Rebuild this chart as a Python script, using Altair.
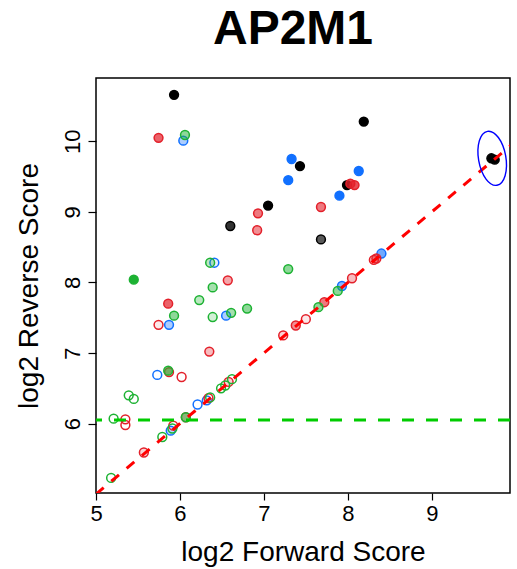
import altair as alt
import pandas as pd

# ---- data ----
fwd_black = [5.93, 8.19, 7.43, 7.05, 7.99, 6.60, 7.68, 9.71, 9.75]
rev_black = [10.66, 10.28, 9.65, 9.09, 9.38, 8.80, 8.61, 9.76, 9.74]
alpha_black = [1, 1, 1, 1, 1, 0.8, 0.65, 1, 1]

fwd_blue = [7.33, 7.29, 8.13, 7.90, 6.04, 6.41, 6.55, 5.87, 5.73, 6.21, 6.32, 5.89, 7.93, 8.40]
rev_blue = [9.75, 9.45, 9.58, 9.23, 10.01, 8.28, 7.53, 7.40, 6.69, 6.27, 6.33, 5.90, 7.95, 8.41]
alpha_blue = [1, 1, 1, 1, 0.35, 0.1, 0.35, 0.35, 0, 0, 0.05, 0.3, 0.5, 0.6]

fwd_red = [5.745, 8.03, 8.08, 7.68, 6.93, 6.92, 6.57, 5.86, 5.745, 6.35, 5.87, 6.02, 5.35,
           5.35, 5.92, 5.57, 6.34, 6.58, 7.23, 7.38, 7.50, 7.72, 8.05, 8.31, 8.34, 6.07]
rev_red = [10.05, 9.40, 9.38, 9.07, 8.98, 8.74, 8.03, 7.70, 7.40, 7.02, 6.73, 6.66, 6.06,
           5.98, 5.97, 5.59, 6.36, 6.59, 7.25, 7.39, 7.48, 7.72, 8.06, 8.32, 8.34, 6.09]
alpha_red = [0.7, 0.8, 0.8, 0.6, 0.6, 0.5, 0.4, 0.7, 0.1, 0.3, 0.4, 0, 0,
             0, 0, 0.2, 0, 0.2, 0.2, 0.5, 0.1, 0.6, 0.3, 0.3, 0.5, 0.3]

fwd_green = [6.06, 5.45, 7.29, 6.36, 6.39, 6.23, 6.80, 5.93, 6.61, 6.39, 5.86, 5.39, 5.45,
             5.21, 6.07, 5.79, 5.18, 6.36, 6.49, 6.54, 6.62, 7.65, 7.88, 5.91]
rev_green = [10.09, 8.04, 8.19, 8.28, 7.93, 7.75, 7.63, 7.53, 7.57, 7.51, 6.75, 6.40, 6.35,
             6.07, 6.09, 5.81, 5.23, 6.37, 6.50, 6.54, 6.63, 7.65, 7.88, 5.93]
alpha_green = [0.5, 1, 0.5, 0.3, 0.4, 0.3, 0.5, 0.5, 0.4, 0.2, 0.6, 0, 0,
               0, 0.5, 0, 0, 0, 0, 0, 0, 0.5, 0.5, 0]

groups = ["black", "blue", "red", "green"]
group_colors = ["#000000", "#1170FF", "#E3202A", "#1DB233"]

cutoff_y = [6.05]
diag_start = [5.0]
diag_end = [10.0]

ellipse_x = [9.72]
ellipse_y = [9.76]

title_text = "AP2M1"
x_title = "log2 Forward Score"
y_title = "log2 Reverse Score"
x_ticks = [5, 6, 7, 8, 9]
y_ticks = [6, 7, 8, 9, 10]
x_domain = [5.0, 9.932]
y_domain = [5.016, 10.898]

# ---- build table ----
rows = []
for g, fx, ry, al in [("black", fwd_black, rev_black, alpha_black),
                      ("blue", fwd_blue, rev_blue, alpha_blue),
                      ("red", fwd_red, rev_red, alpha_red),
                      ("green", fwd_green, rev_green, alpha_green)]:
    for a, b, c in zip(fx, ry, al):
        rows.append({"fwd": a, "rev": b, "grp": g, "alpha": c})
pts = pd.DataFrame(rows)

FONT = "Liberation Sans"

xs = alt.Scale(domain=x_domain, nice=False, zero=False)
ys = alt.Scale(domain=y_domain, nice=False, zero=False)
cscale = alt.Scale(domain=groups, range=group_colors)

x_axis = alt.Axis(values=x_ticks, format="d", title=x_title, grid=False, domain=False,
                  tickColor="black", tickSize=7, tickWidth=1.2, labelFlush=False,
                  labelFontSize=22, labelFont=FONT, labelColor="black", labelPadding=3,
                  titleFontSize=28, titleFont=FONT, titleFontWeight="normal",
                  titleColor="black", titlePadding=14)
y_axis = alt.Axis(values=y_ticks, format="d", title=y_title, grid=False, domain=False,
                  tickColor="black", tickSize=8, tickWidth=1.2, labelFlush=False,
                  labelFontSize=22, labelFont=FONT, labelColor="black",
                  labelAngle=270, labelAlign="center", labelBaseline="alphabetic",
                  labelPadding=9,
                  titleFontSize=28, titleFont=FONT, titleFontWeight="normal",
                  titleColor="black", titlePadding=18)

points = alt.Chart(pts).mark_point(filled=True, size=78, strokeWidth=1.5, shape="circle",
                                   opacity=1).encode(
    x=alt.X("fwd:Q", scale=xs, axis=x_axis),
    y=alt.Y("rev:Q", scale=ys, axis=y_axis),
    fill=alt.Fill("grp:N", scale=cscale, legend=None),
    stroke=alt.Stroke("grp:N", scale=cscale, legend=None),
    fillOpacity=alt.FillOpacity("alpha:Q", scale=None),
)

diag = alt.Chart(pd.DataFrame({"x": diag_start, "y": diag_start, "x2": diag_end, "y2": diag_end})).mark_rule(
    color="#FF0000", strokeWidth=3, strokeDash=[10, 10], clip=True
).encode(
    x=alt.X("x:Q", scale=xs), y=alt.Y("y:Q", scale=ys),
    x2="x2:Q", y2="y2:Q",
)

hline = alt.Chart(pd.DataFrame({"y": cutoff_y})).mark_rule(
    color="#00CC00", strokeWidth=3, strokeDash=[12, 12], clip=True
).encode(y=alt.Y("y:Q", scale=ys))

ellipse_path = "M0,-1 A0.5,1 0 1,1 0,1 A0.5,1 0 1,1 0,-1 Z"
ellipse = alt.Chart(pd.DataFrame({"x": ellipse_x, "y": ellipse_y})).mark_point(
    shape=ellipse_path, size=3000, angle=350, filled=False, stroke="#0000FF", strokeWidth=1.4,
    opacity=1
).encode(x=alt.X("x:Q", scale=xs), y=alt.Y("y:Q", scale=ys))

chart = alt.layer(points, diag, hline, ellipse).properties(
    width=414, height=415,
    title=alt.TitleParams(title_text, font=FONT, fontSize=48, fontWeight="bold",
                          color="black", anchor="middle", dx=-10, offset=24),
    autosize=alt.AutoSizeParams(type="none"),
    padding={"left": 96, "top": 78, "right": 7, "bottom": 76},
    background="white",
).configure_view(stroke="black", strokeWidth=1.5)

chart.save("out.html", embed_options={"renderer": "svg", "actions": False})
